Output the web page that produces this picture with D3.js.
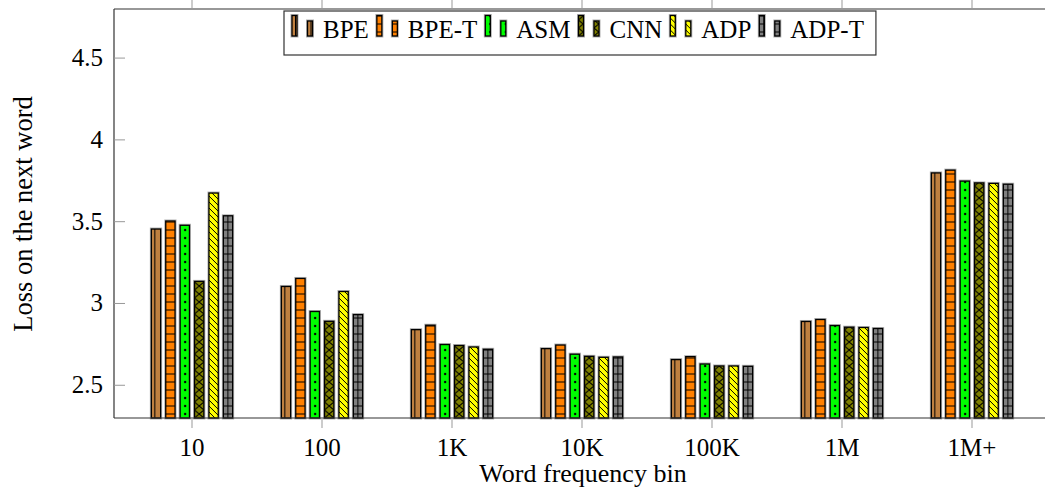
<!DOCTYPE html>
<html>
<head>
<meta charset="utf-8">
<script src="https://cdn.jsdelivr.net/npm/d3@7"></script>
<style>
  body { margin: 0; background: #fff; }
</style>
</head>
<body>
<svg></svg>
<script>
const w = 1045;
const h = 493;

// data
const bins = ['10', '100', '1K', '10K', '100K', '1M', '1M+'];
const series = ['BPE', 'BPE-T', 'ASM', 'CNN', 'ADP', 'ADP-T'];
const bpe = [3.455, 3.104, 2.84, 2.724, 2.657, 2.89, 3.798];
const bpeT = [3.504, 3.153, 2.867, 2.746, 2.675, 2.902, 3.815];
const asm = [3.478, 2.951, 2.749, 2.69, 2.63, 2.865, 3.748];
const cnn = [3.135, 2.891, 2.743, 2.677, 2.618, 2.855, 3.737];
const adp = [3.675, 3.073, 2.734, 2.671, 2.618, 2.853, 3.734];
const adpT = [3.536, 2.932, 2.72, 2.673, 2.616, 2.847, 3.729];
const yTicks = [2.5, 3, 3.5, 4, 4.5];
const yLabels = ['2.5', '3', '3.5', '4', '4.5'];

const values = [bpe, bpeT, asm, cnn, adp, adpT];
const colors = ['#bf8040', '#ff8000', '#00ff00', '#808000', '#ffff00', '#808080'];
const kinds = ['vlines', 'hlines', 'dots', 'cross', 'diag', 'grid'];
const font = '"Liberation Serif", "DejaVu Serif", serif';

const svg = d3
  .select('svg')
  .attr('width', w)
  .attr('height', h)
  .attr('font-family', font)
  .style('font-family', font);
const defs = svg.append('defs');

const plotLeft = 114;
const plotRight = 1050;
const plotTop = 9;
const plotBottom = 418;

const x = d3.scalePoint().domain(bins).range([plotLeft, plotRight]).padding(0.6);
const inner = d3
  .scaleBand()
  .domain(series)
  .range([-43.2, 43.2])
  .paddingInner(0.354)
  .paddingOuter(0.177);
const y = d3.scaleLinear().domain([2.3, 4.8]).range([plotBottom, plotTop]);

let patId = 0;
const addPattern = (kind, x0, y0) => {
  const id = 'pat' + patId++;
  const p = defs
    .append('pattern')
    .attr('id', id)
    .attr('patternUnits', 'userSpaceOnUse')
    .attr('x', x0)
    .attr('y', y0);
  const line = d =>
    p.append('path').attr('d', d).attr('stroke', '#000').attr('stroke-width', 1).attr('fill', 'none');
  if (kind === 'vlines') {
    p.attr('width', 60).attr('height', 60);
    line('M3.5,0V60');
  } else if (kind === 'hlines') {
    p.attr('width', 60).attr('height', 8);
    line('M0,4H60');
  } else if (kind === 'dots') {
    p.attr('width', 60).attr('height', 8);
    p.append('circle').attr('cx', 5).attr('cy', 4).attr('r', 1.2).attr('fill', '#000');
  } else if (kind === 'cross') {
    p.attr('width', 9.3).attr('height', 8);
    line('M0,0L9.3,8M9.3,0L0,8');
  } else if (kind === 'diag') {
    p.attr('width', 6).attr('height', 6);
    line('M0,0L6,6M-1,5L1,7M5,-1L7,1');
  } else if (kind === 'grid') {
    p.attr('width', 60).attr('height', 8);
    line('M0,4H60M4.6,0V8');
  }
  return `url(#${id})`;
};

const drawBar = (g, bx, by, bw, bh, i) => {
  g.append('rect')
    .attr('x', bx)
    .attr('y', by)
    .attr('width', bw)
    .attr('height', bh)
    .attr('fill', 'none')
    .attr('stroke', '#b0b0b0')
    .attr('stroke-width', 3);
  g.append('rect')
    .attr('x', bx)
    .attr('y', by)
    .attr('width', bw)
    .attr('height', bh)
    .attr('fill', colors[i]);
  g.append('rect')
    .attr('x', bx)
    .attr('y', by)
    .attr('width', bw)
    .attr('height', bh)
    .attr('fill', addPattern(kinds[i], bx, by + bh));
  g.append('rect')
    .attr('x', bx)
    .attr('y', by)
    .attr('width', bw)
    .attr('height', bh)
    .attr('fill', 'none')
    .attr('stroke', '#000')
    .attr('stroke-width', 1.3);
};

const addText = (g, str, size) =>
  g
    .append('text')
    .attr('font-family', font)
    .style('font-family', font)
    .style('font-size', size + 'px')
    .attr('fill', '#000')
    .text(str);

// bars
const bars = svg.append('g');
series.forEach((s, i) => {
  values[i].forEach((v, j) => {
    const bx = x(bins[j]) + inner(s);
    drawBar(bars, bx, y(v), inner.bandwidth(), y(2.3) - y(v), i);
  });
});

// axis frame
const frame = svg.append('g').attr('stroke', '#333').attr('stroke-width', 1.2);
frame.append('line').attr('x1', plotLeft).attr('x2', plotLeft).attr('y1', plotTop).attr('y2', plotBottom);
frame.append('line').attr('x1', plotLeft).attr('x2', plotRight).attr('y1', plotBottom).attr('y2', plotBottom);
frame.append('line').attr('x1', plotLeft).attr('x2', plotRight).attr('y1', plotTop).attr('y2', plotTop);

// y ticks
svg
  .selectAll('.ytick')
  .data(yTicks)
  .enter()
  .append('line')
  .attr('x1', plotLeft)
  .attr('x2', plotLeft + 11)
  .attr('y1', d => y(d))
  .attr('y2', d => y(d))
  .attr('stroke', '#999')
  .attr('stroke-width', 1);
yTicks.forEach((d, i) => {
  addText(svg, yLabels[i], 25)
    .attr('x', 103)
    .attr('y', d => y(d) + 8)
    .attr('y', y(d) + 8)
    .attr('text-anchor', 'end');
});

// x ticks, bottom and top
svg
  .selectAll('.xtick')
  .data(bins)
  .enter()
  .append('line')
  .attr('x1', d => x(d))
  .attr('x2', d => x(d))
  .attr('y1', plotBottom)
  .attr('y2', plotBottom + 10)
  .attr('stroke', '#999');
svg
  .selectAll('.xtick2')
  .data(bins)
  .enter()
  .append('line')
  .attr('x1', d => x(d))
  .attr('x2', d => x(d))
  .attr('y1', 0)
  .attr('y2', plotTop)
  .attr('stroke', '#999');
bins.forEach(d => {
  addText(svg, d, 25)
    .attr('x', x(d))
    .attr('y', 456)
    .attr('text-anchor', 'middle');
});

// axis titles
addText(svg, 'Word frequency bin', 26)
  .attr('x', 583)
  .attr('y', 482)
  .attr('text-anchor', 'middle');
addText(svg, 'Loss on the next word', 26.5)
  .attr('transform', 'translate(32,214) rotate(-90)')
  .attr('text-anchor', 'middle');

// legend
const legend = svg.append('g');
const legendBox = legend
  .append('rect')
  .attr('y', 11)
  .attr('height', 44)
  .attr('fill', '#fff')
  .attr('stroke', '#333')
  .attr('stroke-width', 1.2);
let lx = 292;
series.forEach((s, i) => {
  drawBar(legend, lx, 15.5, 5, 20.5, i);
  drawBar(legend, lx + 15.5, 21, 5, 15, i);
  const t = addText(legend, s, 25)
    .attr('x', lx + 31)
    .attr('y', 38);
  lx += 31 + t.node().getComputedTextLength() + 8;
});
legendBox.attr('x', 284).attr('width', lx - 284 + 4);
</script>
</body>
</html>
